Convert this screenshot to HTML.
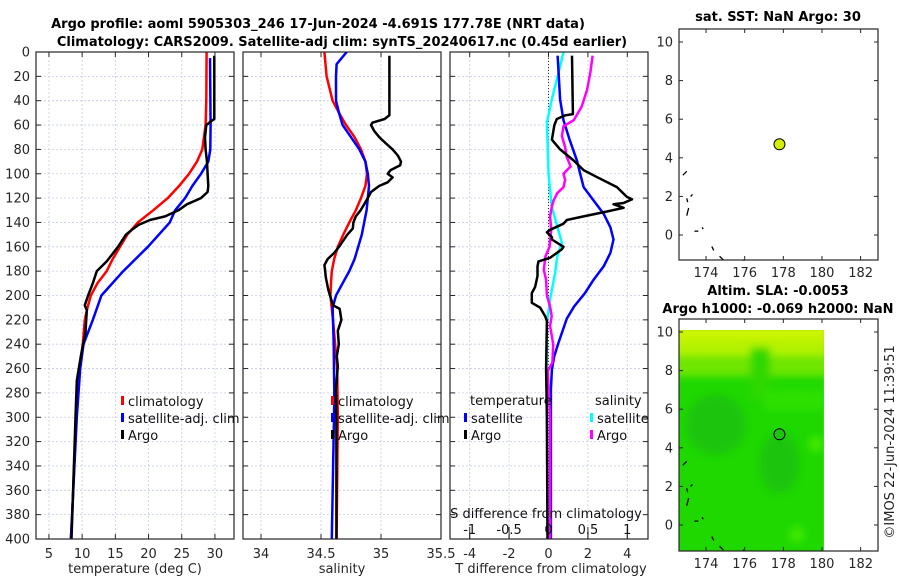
<!DOCTYPE html>
<html><head><meta charset="utf-8">
<style>
html,body{margin:0;padding:0;background:#fff;}
svg{display:block;font-family:"DejaVu Sans","Liberation Sans",sans-serif;}
</style></head>
<body>
<svg id="fig" width="900" height="580" viewBox="0 0 900 580" xmlns="http://www.w3.org/2000/svg">
<g id="bg"></g>
</svg>
<script>
// ---------- data ----------
const depthTicks = [0,20,40,60,80,100,120,140,160,180,200,220,240,260,280,300,320,340,360,380,400];
const tempTicks = [5,10,15,20,25,30];
const salTicks = [34,34.5,35,35.5];
const tdiffTicks = [-4,-2,0,2,4];
const sdiffTicks = [-1,-0.5,0,0.5,1];
const lonTicks = [174,176,178,180,182];
const latTicks = [0,2,4,6,8,10];

const climTDepth = [0,40,60,80,90,100,110,120,130,140,150,160,170,180,190,200,210,220,240,260,280,300,340,380,400];
const climTVal   = [28.75,28.7,28.6,28.1,27.3,26.1,24.6,22.9,20.7,18.4,16.8,15.7,14.6,13.7,12.3,11.3,10.8,10.4,10.1,9.6,9.3,9.1,8.8,8.5,8.3];
const satTDepth = [5,60,80,90,100,110,120,130,140,160,180,200,220,240,260,300,400];
const satTVal   = [29.25,29.35,29.3,29,27.9,26.6,25.5,24,23.2,19.9,16.2,12.9,11.6,10.2,9.7,9.2,8.3];
const argoTDepth = [3,55,57,60,70,80,90,100,110,115,120,125,130,135,138,142,146,150,160,172,180,190,200,208,212,230,250,270,300,350,400];
const argoTVal   = [29.9,29.9,29.4,28.7,28.5,28.6,28.8,28.9,29,28.9,27.9,25.8,24.5,22.5,20.2,18.5,17.5,16.6,15.4,13.7,12.2,11.6,10.9,10.4,10.7,10.5,9.8,9.2,9.0,8.7,8.4];

const climSDepth = [0,20,40,50,60,70,80,90,100,110,120,130,140,150,160,170,180,190,200,220,260,300,400];
const climSVal   = [34.528,34.547,34.597,34.65,34.708,34.78,34.833,34.87,34.883,34.87,34.833,34.79,34.736,34.686,34.64,34.61,34.59,34.583,34.578,34.6,34.635,34.64,34.63];
const satSDepth = [0,10,20,40,50,60,70,80,90,100,110,120,130,140,150,160,170,180,190,200,210,220,240,280,300,400];
const satSVal   = [34.714,34.63,34.625,34.625,34.65,34.68,34.75,34.82,34.87,34.89,34.9,34.89,34.88,34.86,34.84,34.81,34.78,34.736,34.68,34.625,34.597,34.6,34.606,34.611,34.608,34.59];
const argoSDepth = [3,52,55,58,60,65,70,75,80,85,90,93,97,100,103,107,110,115,120,125,130,135,140,145,150,160,165,170,175,180,185,190,195,200,208,211,220,229,240,250,258,277,300,400];
const argoSVal   = [35.07,35.07,35.03,34.93,34.917,34.944,34.986,35.04,35.097,35.14,35.167,35.16,35.08,35.056,35.097,35.056,34.986,34.917,34.889,34.86,34.83,34.79,34.77,34.765,34.72,34.65,34.61,34.556,34.528,34.535,34.54,34.55,34.56,34.575,34.6,34.656,34.67,34.64,34.648,34.632,34.64,34.625,34.628,34.628];

const tSatDiffDepth = [3,17,39,56,72,89,100,111,122,133,144,154,165,176,187,198,209,219,239,250,261,277,400];
const tSatDiffVal   = [0.46,0.51,0.59,0.76,1.07,1.44,1.61,1.78,2.29,2.8,3.14,3.3,3.14,2.8,2.29,1.85,1.3,0.93,0.5,0.29,0.17,0.12,0.12];
const tArgoDiffDepth = [3,51,52,55,60,72,80,89,97,102,111,119,121,124,125,128,131,135,138,141,146,148,152,154,160,162,169,172,176,184,193,198,206,210,217,221,260,300,400];
const tArgoDiffVal   = [1.19,1.24,0.85,0.42,0.3,0.17,0.59,1.27,1.78,2.37,3.47,3.98,4.24,3.81,3.3,3.81,2.97,1.78,0.93,0.76,0.08,-0.08,0.17,0.17,0.76,0.68,0.08,-0.51,-0.56,-0.56,-0.68,-0.85,-0.85,-0.42,-0.17,-0.08,-0.12,-0.08,-0.05];
const sSatDiffDepth = [0,17,39,58,72,100,127,143,157,168,181,203,223,300,400];
const sSatDiffVal   = [0.19,0.127,0.042,-0.02,-0.013,0,0.04,0.11,0.17,0.11,0.085,0.02,-0.02,-0.02,-0.01];
const sArgoDiffDepth = [3,17,31,45,56,61,69,78,86,94,100,105,111,116,122,127,135,146,160,168,179,187,200,209,217,225,240,255,262,300,400];
const sArgoDiffVal   = [0.56,0.53,0.49,0.42,0.32,0.19,0.17,0.21,0.23,0.28,0.19,0.21,0.19,0.11,0.064,0.042,0.02,0.034,0.013,-0.04,-0.06,-0.03,-0.02,0.02,0.04,0.02,0.06,0.05,-0.01,0.02,0.02];

const floatLon = [177.8];
const floatLat = [4.7];

// ---------- helpers ----------
const NS = "http://www.w3.org/2000/svg";
const svg = document.getElementById('fig');
function el(tag, attrs, parent){
  const e = document.createElementNS(NS, tag);
  for (const k in attrs) e.setAttribute(k, attrs[k]);
  (parent||svg).appendChild(e);
  return e;
}
function txt(s, x, y, attrs, parent){
  const e = el('text', Object.assign({x:x, y:y, 'font-size':13, fill:'#262626'}, attrs||{}), parent);
  e.textContent = s;
  return e;
}
const Y0 = 52, Y1 = 539;
function yD(d){ return Y0 + (Y1-Y0)*d/400; }
function linScale(d0,d1,r0,r1){ return v => r0 + (v-d0)*(r1-r0)/(d1-d0); }

const P1 = {x0:36, x1:234}, P2 = {x0:243, x1:441}, P3 = {x0:450, x1:648};
const xT = linScale(3.05, 32.87, P1.x0, P1.x1);
const xS = linScale(33.85, 35.5, P2.x0, P2.x1);
const xTd = linScale(-5, 5.05, P3.x0, P3.x1);
const xSd = v => xTd(v*4);

function drawFrame(P, name, xticks, xf){
  const g = el('g', {});
  
  
  depthTicks.forEach(d=>{
    el('line',{x1:P.x0,x2:P.x1,y1:yD(d),y2:yD(d),stroke:'#c4cce6','stroke-width':0.8,'stroke-dasharray':'2,2'},g);
  });
  xticks.forEach(v=>{
    const x = xf(v);
    el('line',{x1:x,x2:x,y1:Y0,y2:Y1,stroke:'#c4cce6','stroke-width':0.8,'stroke-dasharray':'2,2'},g);
  });
  return g;
}
function drawAxesBox(P, g, xticks, xf){
  el('rect',{x:P.x0,y:Y0,width:P.x1-P.x0,height:Y1-Y0,fill:'none',stroke:'#262626','stroke-width':1.2},g);
  depthTicks.forEach(d=>{
    el('line',{x1:P.x0,x2:P.x0+5,y1:yD(d),y2:yD(d),stroke:'#262626','stroke-width':1},g);
    el('line',{x1:P.x1,x2:P.x1-5,y1:yD(d),y2:yD(d),stroke:'#262626','stroke-width':1},g);
  });
  xticks.forEach(v=>{
    const x = xf(v);
    el('line',{x1:x,x2:x,y1:Y1,y2:Y1-5,stroke:'#262626','stroke-width':1},g);
    el('line',{x1:x,x2:x,y1:Y0,y2:Y0+5,stroke:'#262626','stroke-width':1},g);
  });
}
function curve(depths, vals, xf, color, w, name, parent){
  const pts = depths.map((d,i)=> xf(vals[i]).toFixed(1)+','+yD(d).toFixed(1)).join(' ');
  const p = el('polyline',{points:pts,fill:'none',stroke:color,'stroke-width':w,'stroke-linejoin':'round'},parent);
  
  
  return p;
}
function legendItem(x, y, color, label, name){
  const g = el('g',{});
  
  
  el('rect',{x:x,y:y-9,width:3,height:9,fill:color},g);
  txt(label, x+7, y+1, {'font-size':13,fill:'#111'}, g);
}

// ---------- titles ----------
const t1 = txt('Argo profile: aoml 5905303_246 17-Jun-2024 -4.691S 177.78E (NRT data)', 318, 28, {'font-size':13,'font-weight':'bold','text-anchor':'middle',fill:'#000'});


const t2 = txt('Climatology: CARS2009. Satellite-adj clim: synTS_20240617.nc (0.45d earlier)', 342, 46, {'font-size':13,'font-weight':'bold','text-anchor':'middle',fill:'#000'});



// ---------- panel 1 ----------
const g1 = drawFrame(P1,'temperature-panel',tempTicks,xT);
curve(climTDepth, climTVal, xT, '#ff0000', 2.5, 'climatology-temperature-line', g1);
curve(satTDepth, satTVal, xT, '#0000ff', 2.5, 'satellite-temperature-line', g1);
curve(argoTDepth, argoTVal, xT, '#000000', 2.5, 'argo-temperature-line', g1);
drawAxesBox(P1, g1, tempTicks, xT);
depthTicks.forEach(d=>{
  const t = txt(String(d), 30, yD(d)+4.5, {'text-anchor':'end','font-size':13});
  
  
});
tempTicks.forEach(v=>{
  const t = txt(String(v), xT(v), 558, {'text-anchor':'middle','font-size':13});
  
  
});
const xl1 = txt('temperature (deg C)', 135, 573, {'text-anchor':'middle','font-size':13});


legendItem(121, 405, '#ff0000', 'climatology', 'legend-climatology');
legendItem(121, 422, '#0000ff', 'satellite-adj. clim', 'legend-satellite-adj');
legendItem(121, 439, '#000000', 'Argo', 'legend-argo');

// ---------- panel 2 ----------
const g2 = drawFrame(P2,'salinity-panel',salTicks,xS);
curve(climSDepth, climSVal, xS, '#ff0000', 2.5, 'climatology-salinity-line', g2);
curve(satSDepth, satSVal, xS, '#0000ff', 2.5, 'satellite-salinity-line', g2);
curve(argoSDepth, argoSVal, xS, '#000000', 2.5, 'argo-salinity-line', g2);
drawAxesBox(P2, g2, salTicks, xS);
salTicks.forEach(v=>{
  const t = txt(String(v), xS(v), 558, {'text-anchor':'middle','font-size':13});
  
  
});
const xl2 = txt('salinity', 342, 573, {'text-anchor':'middle','font-size':13});


legendItem(331, 405, '#ff0000', 'climatology', 'legend-climatology-2');
legendItem(331, 422, '#0000ff', 'satellite-adj. clim', 'legend-satellite-adj-2');
legendItem(331, 439, '#000000', 'Argo', 'legend-argo-2');

// ---------- panel 3 ----------
const g3 = drawFrame(P3,'difference-panel',tdiffTicks,xTd);
el('line',{x1:xTd(0),x2:xTd(0),y1:Y0,y2:Y1,stroke:'#333','stroke-width':1,'stroke-dasharray':'1,2'},g3);
curve(sSatDiffDepth, sSatDiffVal, xSd, '#00ffff', 2.5, 'salinity-satellite-diff-line', g3);
curve(tSatDiffDepth, tSatDiffVal, xTd, '#0000ff', 2.5, 'temperature-satellite-diff-line', g3);
curve(sArgoDiffDepth, sArgoDiffVal, xSd, '#ff00ff', 2.5, 'salinity-argo-diff-line', g3);
curve(tArgoDiffDepth, tArgoDiffVal, xTd, '#000000', 2.5, 'temperature-argo-diff-line', g3);
drawAxesBox(P3, g3, tdiffTicks, xTd);
sdiffTicks.forEach(v=>{
  el('line',{x1:xSd(v),x2:xSd(v),y1:Y1,y2:Y1-12,stroke:'#262626','stroke-width':1},g3);
  const t = txt(String(v), xSd(v), 534, {'text-anchor':'middle','font-size':13,fill:'#111'});
  
  
});
const sdt = txt('S difference from climatology', 546, 518, {'text-anchor':'middle','font-size':13,fill:'#111'});


tdiffTicks.forEach(v=>{
  const t = txt(String(v), xTd(v), 558, {'text-anchor':'middle','font-size':13});
  
  
});
const xl3 = txt('T difference from climatology', 551, 573, {'text-anchor':'middle','font-size':13});


const lt = txt('temperature', 470, 405, {'font-size':13,fill:'#111'});


const ls = txt('salinity', 595, 405, {'font-size':13,fill:'#111'});


legendItem(464, 422, '#0000ff', 'satellite', 'legend-t-satellite');
legendItem(464, 439, '#000000', 'Argo', 'legend-t-argo');
legendItem(590, 422, '#00ffff', 'satellite', 'legend-s-satellite');
legendItem(590, 439, '#ff00ff', 'Argo', 'legend-s-argo');

// ---------- maps ----------
const M = {x0:679, x1:878};
const mLon = linScale(172.6, 182.9, M.x0, M.x1);
function mapAxes(y0, y1, lat10y, name, drawFill){
  const mLat = v => lat10y + (10 - v)*19.3;
  const g = el('g',{});
  
  
  if (drawFill) drawFill(g, mLat);
  const coast = [[172.8,3.1,173.0,3.3],[173.0,1.9,173.05,1.7],[173.1,1.4,173.0,1.0],[173.2,2.0,173.3,2.1],[173.4,0.2,173.6,0.2],[173.8,0.4,173.85,0.3],[174.3,-0.6,174.4,-0.8],[174.7,-1.1,174.9,-1.3],[175.9,-1.3,176.0,-1.3]];
  coast.forEach(c=>{
    el('line',{x1:mLon(c[0]),y1:mLat(c[1]),x2:mLon(c[2]),y2:mLat(c[3]),stroke:'#000','stroke-width':1.3},g);
  });
  el('rect',{x:M.x0,y:y0,width:M.x1-M.x0,height:y1-y0,fill:'none',stroke:'#262626','stroke-width':1.2},g);
  lonTicks.forEach(v=>{
    const x = mLon(v);
    el('line',{x1:x,x2:x,y1:y1,y2:y1-4,stroke:'#262626'},g);
    el('line',{x1:x,x2:x,y1:y0,y2:y0+4,stroke:'#262626'},g);
    const t = txt(String(v), x, y1+17, {'text-anchor':'middle','font-size':13});
    
    
  });
  latTicks.forEach(v=>{
    const y = mLat(v);
    el('line',{x1:M.x0,x2:M.x0+4,y1:y,y2:y,stroke:'#262626'},g);
    el('line',{x1:M.x1,x2:M.x1-4,y1:y,y2:y,stroke:'#262626'},g);
    const t = txt(String(v), M.x0-6, y+4.5, {'text-anchor':'end','font-size':13});
    
    
  });
  return {g, mLat};
}
const mt = txt('sat. SST: NaN Argo: 30', 778, 21, {'text-anchor':'middle','font-size':13,'font-weight':'bold',fill:'#000'});


const map1 = mapAxes(29, 260, 42, 'sst-map', null);
floatLon.forEach((lo,i)=>{
  const c = el('circle',{cx:mLon(lo),cy:map1.mLat(floatLat[i]),r:5.5,fill:'#d4f000',stroke:'#000','stroke-width':1},map1.g);
  
  
});
const mb1 = txt('Altim. SLA: -0.0053', 778, 295, {'text-anchor':'middle','font-size':13,'font-weight':'bold',fill:'#000'});


const mb2 = txt('Argo h1000: -0.069 h2000: NaN', 778, 313, {'text-anchor':'middle','font-size':13,'font-weight':'bold',fill:'#000'});


const map2 = mapAxes(319, 551, 332, 'sla-map', (g, mLat)=>{
  const defs = el('defs',{},g);
  const f = el('filter',{id:'blur'},defs);
  el('feGaussianBlur',{stdDeviation:4},f);
  const x0 = M.x0, x1 = mLon(180.1), yt = mLat(10.1), yb = 551;
  el('rect',{x:x0,y:yt,width:x1-x0,height:yb-yt,fill:'#1ed800'},g);
  const clip = el('clipPath',{id:'mclip'},defs);
  el('rect',{x:x0,y:yt,width:x1-x0,height:yb-yt},clip);
  const cg = el('g',{'clip-path':'url(#mclip)'},g);
  const bg = el('g',{filter:'url(#blur)'},cg);
  el('rect',{x:x0-10,y:yt-10,width:x1-x0+20,height:mLat(7.7)-yt+10,fill:'#6ee600'},bg);
  el('rect',{x:x0-10,y:yt-10,width:x1-x0+20,height:mLat(8.8)-yt+10,fill:'#b4f200'},bg);
  el('rect',{x:x0-10,y:yt-10,width:x1-x0+20,height:mLat(9.6)-yt+10,fill:'#ccf400'},bg);
  el('rect',{x:mLon(176.3),y:mLat(9.2),width:mLon(177.3)-mLon(176.3),height:mLat(6.5)-mLat(9.2),fill:'#2ed800'},bg);
  el('ellipse',{cx:mLon(174.5),cy:mLat(5.2),rx:30,ry:30,fill:'#1cc40c'},bg);
  el('ellipse',{cx:mLon(177.8),cy:mLat(3.2),rx:20,ry:30,fill:'#1cc40c'},bg);
  el('rect',{x:mLon(177),y:mLat(7),width:60,height:20,fill:'#2ee000'},bg);
  el('circle',{cx:mLon(179.7),cy:mLat(4.2),r:8,fill:'#40e800'},bg);
  el('circle',{cx:mLon(178.7),cy:mLat(-0.5),r:8,fill:'#40e800'},bg);
});
floatLon.forEach((lo,i)=>{
  const c = el('circle',{cx:mLon(lo),cy:map2.mLat(floatLat[i]),r:5.5,fill:'#1cc40c',stroke:'#000','stroke-width':1},map2.g);
  
  
});
const stamp = txt('\u00a9IMOS 22-Jun-2024 11:39:51', 0, 0, {'text-anchor':'middle','font-size':13,fill:'#222',transform:'translate(894,442) rotate(-90)'});


</script>
</body></html>
